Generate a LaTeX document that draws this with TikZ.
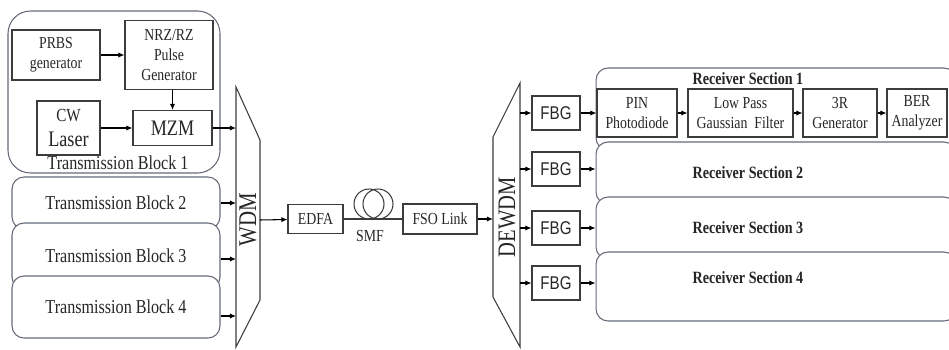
\documentclass[tikz,border=0pt]{standalone}
\usepackage{fontspec}
\setmainfont[FakeStretch=0.82]{Liberation Serif}
\setsansfont[FakeStretch=0.82]{Liberation Sans}
\usetikzlibrary{arrows.meta}
\definecolor{edge}{RGB}{60,60,60}
\definecolor{frame}{RGB}{100,106,120}
\begin{document}
\begin{tikzpicture}[
  x=0.02cm, y=-0.02cm, line width=0.6pt, >={Latex[length=3.5pt,width=3pt]},
  every node/.style={text=black!85},
  blk/.style={draw=edge, fill=white, inner sep=1pt, align=center,
    font=\fontsize{9.6}{11.2}\selectfont},
  fbg/.style={blk, minimum width=0.96cm, minimum height=0.68cm,
    font=\sffamily\fontsize{10.5}{12}\selectfont},
  grp/.style={draw=frame, fill=white, rounded corners=0.24cm, inner sep=0pt},
  tbtext/.style={font=\fontsize{11.2}{13}\selectfont},
  rstext/.style={font=\bfseries\fontsize{9.8}{12}\selectfont}
]
\useasboundingbox (0,0) rectangle (949,349);
\clip (0,0) rectangle (949,349);

% transmission blocks
\node[grp, rounded corners=0.45cm, minimum width=4.24cm, minimum height=3.24cm] (tb1) at (114,92) {};
\node[tbtext] (tb1lbl) at (118,163) {Transmission Block 1};
\node[grp, tbtext, minimum width=4.16cm, minimum height=1.04cm] (tb2) at (116,203) {Transmission Block 2};
\node[grp, tbtext, minimum width=4.16cm, minimum height=1.32cm] (tb3) at (116,256) {Transmission Block 3};
\node[grp, tbtext, minimum width=4.16cm, minimum height=1.24cm] (tb4) at (116,307) {Transmission Block 4};

\node[blk, minimum width=1.76cm, minimum height=1cm] (prbs) at (56,55) {PRBS\\generator};
\node[blk, minimum width=1.76cm, minimum height=1.38cm] (nrz) at (169,55) {NRZ/RZ\\Pulse\\Generator};
\node[blk, minimum width=1.26cm, minimum height=1.08cm, font=\fontsize{12.6}{14}\selectfont] (cw) at (68.5,128)
  {{\fontsize{10.5}{12}\selectfont CW}\\Laser};
\node[blk, minimum width=1.58cm, minimum height=0.7cm, font=\fontsize{12.6}{14}\selectfont] (mzm) at (172.5,128) {MZM};

\draw[->] (prbs) -- (nrz);
\draw[->] (nrz.south -| mzm) -- (mzm);
\draw[->] (cw) -- (mzm);

% WDM
\coordinate (w1) at (236,128);
\coordinate (w2) at (236,203);
\coordinate (w3) at (236,259);
\coordinate (w4) at (236,316);
\coordinate (wout) at (260,220);
\draw[edge] (236,87) -- (260,140) -- (260,300) -- (236,347) -- cycle;
\node[rotate=90, font=\fontsize{14.5}{16}\selectfont] (wdm) at (248,220) {WDM};

\draw[->] (mzm) -- (w1);
\draw[->] (tb2.east) -- (w2);
\draw[->] (tb3.east |- w3) -- (w3);
\draw[->] (tb4.east |- w4) -- (w4);

% link
\node[blk, minimum width=1.1cm, minimum height=0.58cm] (edfa) at (315.5,219) {EDFA};
\node[blk, minimum width=1.48cm, minimum height=0.6cm] (fso) at (440,219) {FSO Link};
\draw[->] (wout) -- (edfa);
\draw[edge] (edfa) -- (fso);
\node[circle, draw=edge, minimum size=0.6cm, inner sep=0pt] (smfa) at (369,204) {};
\node[circle, draw=edge, minimum size=0.6cm, inner sep=0pt] (smfb) at (378,204) {};
\node[font=\fontsize{9.6}{11}\selectfont] (smf) at (370,236) {SMF};

% DEWDM
\coordinate (dwin) at (493,219);
\coordinate (dout) at (520,83);
\draw[edge] (493,137) -- (520,83) -- (520,347) -- (493,297) -- cycle;
\node[rotate=90, font=\fontsize{14.3}{16}\selectfont] (dewdm) at (507,217) {DEWDM};
\draw[->] (fso) -- (dwin);

% receiver sections
\node[grp, minimum width=7.2cm, minimum height=1.64cm] (rs1) at (776,109) {};
\node[grp, minimum width=7.2cm, minimum height=1.24cm] (rs2) at (776,173) {};
\node[grp, minimum width=7.2cm, minimum height=1.24cm] (rs3) at (776,228) {};
\node[grp, minimum width=7.2cm, minimum height=1.38cm] (rs4) at (776,286.5) {};
\node[rstext] (rs1lbl) at (748,79) {Receiver Section 1};
\node[rstext] (rs2lbl) at (748,173) {Receiver Section 2};
\node[rstext] (rs3lbl) at (748,228) {Receiver Section 3};
\node[rstext] (rs4lbl) at (748,278) {Receiver Section 4};

\node[fbg] (fbg1) at (556,113) {FBG};
\node[fbg] (fbg2) at (556,169) {FBG};
\node[fbg] (fbg3) at (556,228) {FBG};
\node[fbg] (fbg4) at (556,283) {FBG};
\foreach \i in {1,...,4}
  \draw[->] (fbg\i.west -| dout) -- (fbg\i.west);

\node[blk, minimum width=1.6cm, minimum height=0.96cm] (pin) at (637,113) {PIN\\Photodiode};
\node[blk, minimum width=2.1cm, minimum height=0.96cm] (lpf) at (740.5,113) {Low Pass\\Gaussian\ \ Filter};
\node[blk, minimum width=1.48cm, minimum height=0.96cm] (gen) at (840,113) {3R\\Generator};
\node[blk, minimum width=1.2cm, minimum height=0.96cm] (ber) at (917,113) {BER\\Analyzer};

\draw[->] (fbg1) -- (pin);
\foreach \i in {2,3,4}
  \draw[->] (fbg\i.east) -- (fbg\i.east -| rs\i.west);
\draw[->] (pin) -- (lpf);
\draw[->] (lpf) -- (gen);
\draw[->] (gen) -- (ber);
\end{tikzpicture}
\end{document}
